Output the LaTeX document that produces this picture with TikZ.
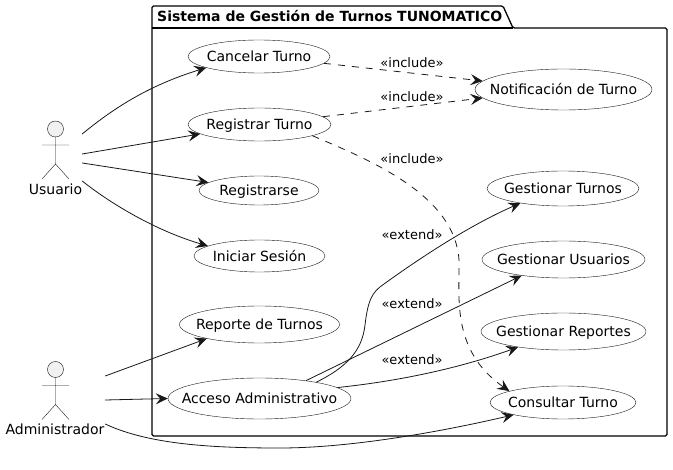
\documentclass[tikz,border=0pt]{standalone}
\usepackage{fontspec}
\setmainfont{DejaVu Sans}
\usetikzlibrary{shapes.geometric,arrows.meta}
\definecolor{inkline}{HTML}{181818}
\definecolor{actorfill}{HTML}{F1F1F1}
\newcommand{\uctext}[1]{\makebox[0pt]{\raisebox{-0.36em}[0pt][0pt]{#1}}}
\tikzset{
  usecase/.style={ellipse,draw=inkline,line width=0.4pt,inner sep=0pt,font=\fontsize{14}{16}\selectfont},
  actorbox/.style={inner sep=0pt},
  actorlabel/.style={inner sep=0pt,font=\fontsize{14}{16}\selectfont},
  stereotype/.style={inner sep=0pt,font=\fontsize{13}{15}\selectfont},
  assoc/.style={draw=inkline,line width=0.8pt,-{Stealth[length=12pt,width=11pt,inset=4.5pt]}},
  incl/.style={assoc,dash pattern=on 7pt off 7pt},
  actorfig/.pic={
    \draw[inkline,line width=0.4pt,fill=actorfill] (0,-30) circle (8);
    \draw[inkline,line width=0.4pt] (0,-22) -- (0,5) (-13.5,-14) -- (13.5,-14)
      (-13.5,20) -- (0,5) -- (13.5,20);
  }
}
\begin{document}
\begin{tikzpicture}[x=1pt,y=-1pt]
    \useasboundingbox (0,0) rectangle (673,470);
    % package
    \draw[black,line width=1.3pt,rounded corners=1.5pt]
      (152,28) -- (152,6) -- (503,6) -- (513,28) -- (667,28) -- (667,436) -- (152,436) -- cycle;
    \draw[black,line width=1.3pt] (152,28) -- (513,28);
    \node[inner sep=0pt,anchor=west,font=\bfseries\fontsize{14}{16}\selectfont] (titulo) at (157,16) {Sistema de Gestión de Turnos TUNOMATICO};
    % actors
    \pic at (55.5,159) {actorfig};
    \pic at (55.5,399.5) {actorfig};
    \node[actorbox,minimum width=53,minimum height=76] (usuario) at (55.5,159) {};
    \node[actorbox,minimum width=100,minimum height=76] (admin) at (55,400) {};
    \node[actorlabel] (usuariotxt) at (55.5,189) {Usuario};
    \node[actorlabel] (admintxt) at (55,429) {Administrador};
    % use cases
    \node[usecase,minimum width=142,minimum height=33] (cancelar) at (259,56.5) {\uctext{Cancelar Turno}};
    \node[usecase,minimum width=143,minimum height=33] (registrar) at (259.5,124.5) {\uctext{Registrar Turno}};
    \node[usecase,minimum width=120,minimum height=29] (registrarse) at (259,190.5) {\uctext{Registrarse}};
    \node[usecase,minimum width=131,minimum height=32] (iniciar) at (259.5,256) {\uctext{Iniciar Sesión}};
    \node[usecase,minimum width=160,minimum height=37] (reporte) at (259.5,324.5) {\uctext{Reporte de Turnos}};
    \node[usecase,minimum width=183,minimum height=41] (acceso) at (259.5,398.5) {\uctext{Acceso Administrativo}};
    \node[usecase,minimum width=177,minimum height=41] (notif) at (563.5,89.5) {\uctext{Notificación de Turno}};
    \node[usecase,minimum width=152,minimum height=35] (gturnos) at (563,188.5) {\uctext{Gestionar Turnos}};
    \node[usecase,minimum width=163,minimum height=37] (gusuarios) at (563.5,259.5) {\uctext{Gestionar Usuarios}};
    \node[usecase,minimum width=165,minimum height=37] (greportes) at (563.5,331.5) {\uctext{Gestionar Reportes}};
    \node[usecase,minimum width=146,minimum height=33] (consultar) at (563,402.5) {\uctext{Consultar Turno}};
    % stereotypes
    \node[stereotype] (inc1) at (412,62.5) {«include»};
    \node[stereotype] (inc2) at (412,96.5) {«include»};
    \node[stereotype] (inc3) at (412,158.5) {«include»};
    \node[stereotype] (ext1) at (412,234.5) {«extend»};
    \node[stereotype] (ext2) at (412,303.5) {«extend»};
    \node[stereotype] (ext3) at (412,359.5) {«extend»};
    % connectors
    \draw[assoc] ([yshift=25pt]usuario.east) .. controls (115,107) and (150,85) .. (cancelar.192);
    \path
    ([yshift=5pt]usuario.east) edge[assoc] (registrar.189)
    ([yshift=-4pt]usuario.east) edge[assoc] (registrarse.171)
    ([yshift=24pt]admin.east) edge[assoc] (reporte.195)
    (admin.east) edge[assoc] (acceso.180);
    \draw[assoc] ([yshift=-22pt]usuario.east) .. controls (115,207) and (160,232) .. (iniciar.169);
    \draw[assoc] ([yshift=-24pt]admin.east) .. controls (150,445) and (215,448) .. (280,448)
      .. controls (350,448) and (440,432) .. (consultar.194.6);
    \draw[assoc] (acceso.21) -- (gusuarios.201);
    \draw[assoc] (acceso.16) .. controls (345,368) and (362,352) .. (365,325)
      .. controls (368,300) and (372,292) .. (384,284)
      .. controls (420,258) and (470,225) .. (gturnos.199);
    \draw[assoc] (acceso.8) .. controls (400,381) and (460,368) .. (greportes.199);
    \draw[incl] (cancelar.-6) -- (notif.174);
    \draw[incl] (registrar.7) -- (notif.186);
    \draw[incl] (registrar.-12) .. controls (370,160) and (455,195) .. (459,260)
      .. controls (460,295) and (450,350) .. (consultar.168);
      \end{tikzpicture}
\end{document}
